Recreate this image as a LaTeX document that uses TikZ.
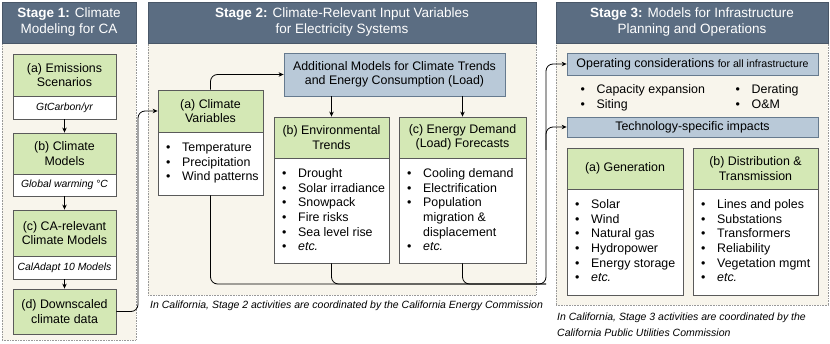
\documentclass[tikz,border=0pt]{standalone}
\usepackage{fontspec}
\setmainfont{Liberation Sans}
\usetikzlibrary{arrows.meta}
\definecolor{hdr}{HTML}{5B6D82}
\definecolor{panel}{HTML}{F8F5EC}
\definecolor{gfill}{HTML}{D4E8B5}
\definecolor{bfill}{HTML}{B9C9D8}
\definecolor{bdr}{HTML}{5A5A5A}
\definecolor{bbdr}{HTML}{667A8E}
\newcommand\bl[1]{\strut\makebox[16pt][l]{\textbullet}#1}
\newcommand\bc[1]{\strut\hspace*{16pt}#1}
\newcommand\mkbox[7]{\node[#1, minimum width={#5-#3}, minimum height={#6-#4}] (#2) at ({(#3+#5)/2},{(#4+#6)/2}) {#7};}
\tikzset{
  panelbody/.style={fill=panel, draw=gray!80, densely dotted, line width=0.6pt},
  hdrbox/.style={fill=hdr, draw=hdr!80!black, line width=0.5pt, inner sep=0},
  hdrtext/.style={text=white, align=center, font=\fontsize{13.5}{16}\selectfont},
  gbox/.style={fill=gfill, draw=bdr, line width=0.8pt, align=center, inner sep=0, font=\fontsize{12.4}{14.5}\selectfont},
  wbox/.style={fill=white, draw=bdr, line width=0.8pt, inner sep=0, align=center, font=\fontsize{10.4}{12}\selectfont\itshape},
  bbox/.style={fill=bfill, draw=bbdr, line width=0.8pt, inner sep=0, align=center, font=\fontsize{12.4}{14.5}\selectfont},
  lst/.style={anchor=north west, align=left, inner sep=0, font=\fontsize{12.4}{14.7}\selectfont},
  captxt/.style={inner sep=0, align=left, font=\fontsize{10.5}{15.5}\selectfont\itshape},
  arr/.style={-{Stealth[length=5pt,width=4.5pt]}, line width=0.8pt, black},
  con/.style={line width=0.8pt, black, rounded corners=7pt},
}
\begin{document}
\begin{tikzpicture}[x=1pt,y=-1pt]
\useasboundingbox (0,0) rectangle (830,344);
% ---------- panels ----------
\mkbox{panelbody}{p1}{2}{43}{136}{340}{}
\mkbox{hdrbox,hdrtext}{h1}{2}{2}{136}{43}{\textbf{Stage 1:} Climate\\Modeling for CA}
\mkbox{panelbody}{p2}{148}{43}{536}{295}{}
\mkbox{hdrbox,hdrtext}{h2}{148}{2}{536}{43}{\textbf{Stage 2:} Climate-Relevant Input Variables\\for Electricity Systems}
\mkbox{panelbody}{p3}{556}{43}{828}{305}{}
\mkbox{hdrbox,hdrtext}{h3}{556}{2}{828}{43}{\textbf{Stage 3:} Models for Infrastructure\\Planning and Operations}
% ---------- stage 1 ----------
\mkbox{gbox}{s1a}{13}{54}{116}{96}{(a) Emissions\\Scenarios}
\mkbox{wbox}{s1aw}{13}{96}{116}{119}{GtCarbon/yr}
\mkbox{gbox}{s1b}{13}{133}{116}{174}{(b) Climate\\Models}
\mkbox{wbox}{s1bw}{13}{174}{116}{196}{Global warming °C}
\mkbox{gbox}{s1c}{13}{210}{116}{256}{(c) CA-relevant\\Climate Models}
\mkbox{wbox}{s1cw}{13}{256}{116}{279}{CalAdapt 10 Models}
\mkbox{gbox}{s1d}{13}{289}{116}{334}{(d) Downscaled\\climate data}
\draw[arr] (s1aw.south) -- (s1b.north);
\draw[arr] (s1bw.south) -- (s1c.north);
\draw[arr] (s1cw.south) -- (s1d.north);
% ---------- stage 2 ----------
\mkbox{bbox}{addl}{284}{53}{505}{96}{Additional Models for Climate Trends\\and Energy Consumption (Load)}
\mkbox{gbox}{cv}{158}{90}{263}{132}{(a) Climate\\Variables}
\mkbox{wbox}{cvw}{158}{132}{263}{195}{}
\mkbox{gbox}{env}{274}{117}{389}{158}{(b) Environmental\\Trends}
\mkbox{wbox}{envw}{274}{158}{389}{263}{}
\mkbox{gbox}{dem}{399}{117}{526}{158}{(c) Energy Demand\\(Load) Forecasts}
\mkbox{wbox}{demw}{399}{158}{526}{263}{}
\node[lst] (cvl) at (166,141) {\bl{Temperature}\\\bl{Precipitation}\\\bl{Wind patterns}};
\node[lst] (envl) at (282,167) {\bl{Drought}\\\bl{Solar irradiance}\\\bl{Snowpack}\\\bl{Fire risks}\\\bl{Sea level rise}\\\bl{\textit{etc.}}};
\node[lst] (deml) at (407,167) {\bl{Cooling demand}\\\bl{Electrification}\\\bl{Population}\\\bc{migration \&}\\\bc{displacement}\\\bl{\textit{etc.}}};
\node[captxt, anchor=west] (cap2) at (150,305.5) {In California, Stage 2 activities are coordinated by the California Energy Commission};
% ---------- stage 3 ----------
\mkbox{bbox}{op}{567}{53}{818}{75}{Operating considerations {\fontsize{10.6}{12}\selectfont for all infrastructure}}
\node[lst] (opl1) at (580.5,83) {\bl{Capacity expansion}\\\bl{Siting}};
\node[lst] (opl2) at (735.5,83) {\bl{Derating}\\\bl{O\&M}};
\mkbox{bbox}{tech}{567}{117}{818}{137}{Technology-specific impacts}
\mkbox{gbox}{gen}{567}{148}{683}{189}{(a) Generation}
\mkbox{wbox}{genw}{567}{189}{683}{295}{}
\mkbox{gbox}{dist}{693}{148}{818}{189}{(b) Distribution \&\\Transmission}
\mkbox{wbox}{distw}{693}{189}{818}{295}{}
\node[lst] (genl) at (575,198) {\bl{Solar}\\\bl{Wind}\\\bl{Natural gas}\\\bl{Hydropower}\\\bl{Energy storage}\\\bl{\textit{etc.}}};
\node[lst] (distl) at (701,198) {\bl{Lines and poles}\\\bl{Substations}\\\bl{Transformers}\\\bl{Reliability}\\\bl{Vegetation mgmt}\\\bl{\textit{etc.}}};
\node[captxt, anchor=north west] (cap3) at (557,313) {In California, Stage 3 activities are coordinated by the\\California Public Utilities Commission};
% ---------- connectors ----------
\coordinate (j1) at (138,0);
\coordinate (busR) at (546,284);
\coordinate (brS) at (546,150);
\draw[arr, rounded corners=7pt] (s1d.east) -| (j1 |- cv.west) -- (cv.west);
\draw[arr, rounded corners=7pt] (cv.north) |- (addl.west);
\draw[arr] (addl.south -| env.north) -- (env.north);
\draw[arr] (addl.south -| dem.north) -- (dem.north);
\draw[con] (envw.south) |- (busR);
\draw[con] (demw.south) |- (busR);
\draw[con, arr] (cvw.south) |- (busR) |- (op.west);
\draw[con, arr] (brS) |- (tech.west);
\end{tikzpicture}
\end{document}
